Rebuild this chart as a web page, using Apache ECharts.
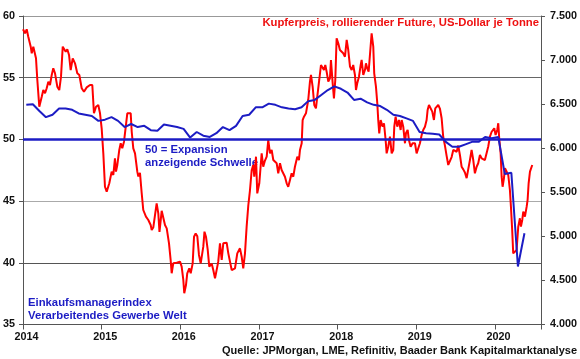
<!DOCTYPE html>
<html><head><meta charset="utf-8">
<script src="https://cdn.jsdelivr.net/npm/echarts@6/dist/echarts.min.js"></script>
<style>html,body{margin:0;padding:0;background:#fff}#c{width:580px;height:359px}</style>
</head><body><div id="c"></div>
<script>
// x-axis: years
const yearTicks = [2014, 2015, 2016, 2017, 2018, 2019, 2020];
const xMin = 2014, xMax = 2020.585;
// Left axis: Einkaufsmanagerindex (PMI), right axis: copper USD/t
const pmiTicks = [35, 40, 45, 50, 55, 60];
const copperTicks = [4000, 4500, 5000, 5500, 6000, 6500, 7000, 7500];

// PMI monthly, Jan 2014 .. May 2020
const pmiStartYear = 2014;
const pmiValues = [
  52.8, 52.85, 52.3, 51.8, 52.0, 52.5, 52.5, 52.4, 52.1, 52.0, 51.9, 51.5,
  51.6, 51.8, 51.5, 51.0, 51.25, 51.0, 51.1, 50.75, 50.7, 51.2, 51.1, 51.0,
  50.85, 50.15, 50.6, 50.3, 50.2, 50.5, 51.0, 50.75, 51.1, 51.9, 52.0, 52.6,
  52.6, 52.9, 52.8, 52.6, 52.5, 52.45, 52.6, 53.1, 53.2, 53.6, 54.0, 54.3,
  54.1, 53.8, 53.2, 53.3, 53.0, 52.8, 52.7, 52.4, 52.0, 51.9, 51.7, 51.5,
  50.6, 50.5, 50.45, 50.4, 49.8, 49.4, 49.4, 49.6, 49.8, 49.8, 50.2, 50.1,
  50.2, 47.2, 47.3, 39.7, 42.4
];

// Copper price (rolling future, USD per tonne): dates as decimal years
const copperDates = [
  2014.000, 2014.025, 2014.047, 2014.067, 2014.098, 2014.111, 2014.131, 2014.153, 2014.165, 2014.182,
  2014.207, 2014.238, 2014.258, 2014.280, 2014.301, 2014.322, 2014.343, 2014.365, 2014.385, 2014.407,
  2014.436, 2014.461, 2014.483, 2014.505, 2014.521, 2014.543, 2014.563, 2014.585, 2014.606, 2014.632,
  2014.661, 2014.690, 2014.716, 2014.746, 2014.775, 2014.810, 2014.852, 2014.881, 2014.902, 2014.928,
  2014.957, 2014.979, 2015.000, 2015.021, 2015.042, 2015.064, 2015.097, 2015.127, 2015.148, 2015.169,
  2015.182, 2015.199, 2015.224, 2015.242, 2015.262, 2015.284, 2015.309, 2015.326, 2015.351, 2015.369,
  2015.382, 2015.402, 2015.424, 2015.453, 2015.466, 2015.487, 2015.509, 2015.529, 2015.563, 2015.593,
  2015.623, 2015.636, 2015.656, 2015.678, 2015.699, 2015.720, 2015.735, 2015.763, 2015.783, 2015.805,
  2015.827, 2015.856, 2015.877, 2015.890, 2015.910, 2015.954, 2015.996, 2016.017, 2016.038, 2016.050,
  2016.072, 2016.088, 2016.114, 2016.132, 2016.157, 2016.174, 2016.195, 2016.216, 2016.237, 2016.259,
  2016.292, 2016.307, 2016.326, 2016.348, 2016.368, 2016.399, 2016.419, 2016.441, 2016.462, 2016.482,
  2016.504, 2016.526, 2016.546, 2016.589, 2016.610, 2016.631, 2016.653, 2016.695, 2016.724, 2016.758,
  2016.780, 2016.800, 2016.822, 2016.843, 2016.864, 2016.885, 2016.907, 2016.927, 2016.940, 2016.962,
  2016.978, 2017.004, 2017.034, 2017.054, 2017.076, 2017.098, 2017.118, 2017.140, 2017.161, 2017.182,
  2017.225, 2017.245, 2017.267, 2017.288, 2017.330, 2017.352, 2017.372, 2017.394, 2017.415, 2017.436,
  2017.457, 2017.487, 2017.508, 2017.521, 2017.543, 2017.555, 2017.572, 2017.597, 2017.626, 2017.648,
  2017.661, 2017.682, 2017.703, 2017.724, 2017.741, 2017.766, 2017.788, 2017.809, 2017.826, 2017.843,
  2017.860, 2017.881, 2017.902, 2017.915, 2017.937, 2017.953, 2017.970, 2017.987, 2018.008, 2018.029,
  2018.051, 2018.071, 2018.093, 2018.115, 2018.135, 2018.157, 2018.178, 2018.198, 2018.220, 2018.233,
  2018.249, 2018.271, 2018.293, 2018.305, 2018.326, 2018.347, 2018.360, 2018.376, 2018.394, 2018.411,
  2018.432, 2018.453, 2018.465, 2018.487, 2018.504, 2018.516, 2018.529, 2018.547, 2018.572, 2018.589,
  2018.610, 2018.623, 2018.643, 2018.665, 2018.687, 2018.707, 2018.720, 2018.737, 2018.758, 2018.779,
  2018.801, 2018.814, 2018.834, 2018.856, 2018.868, 2018.890, 2018.906, 2018.928, 2018.953, 2018.983,
  2019.004, 2019.025, 2019.046, 2019.068, 2019.088, 2019.110, 2019.131, 2019.144, 2019.161, 2019.182,
  2019.203, 2019.224, 2019.241, 2019.259, 2019.279, 2019.300, 2019.322, 2019.342, 2019.364, 2019.386,
  2019.406, 2019.428, 2019.449, 2019.470, 2019.491, 2019.513, 2019.533, 2019.555, 2019.576, 2019.597,
  2019.618, 2019.640, 2019.660, 2019.682, 2019.703, 2019.724, 2019.745, 2019.767, 2019.787, 2019.809,
  2019.831, 2019.851, 2019.872, 2019.894, 2019.914, 2019.936, 2019.958, 2019.978, 2019.991, 2020.008,
  2020.029, 2020.042, 2020.054, 2020.072, 2020.085, 2020.097, 2020.114, 2020.127, 2020.148, 2020.169,
  2020.190, 2020.203, 2020.219, 2020.232, 2020.254, 2020.275, 2020.296, 2020.317, 2020.330, 2020.347,
  2020.360, 2020.381, 2020.403, 2020.415, 2020.428, 2020.445, 2020.474
];
const copperValues = [
  7349, 7304, 7349, 7265, 7152, 7077, 7152, 7152, 7020, 6774,
  6471, 6585, 6660, 6623, 6680, 6755, 6717, 6831, 6907, 6850,
  6698, 6660, 6812, 7152, 7160, 7095, 7122, 7058, 6887, 7020,
  6963, 6850, 6831, 6680, 6641, 6690, 6717, 6717, 6396, 6471,
  6490, 6396, 6226, 5942, 5563, 5507, 5602, 5734, 5696, 5885,
  5734, 5810, 5980, 6056, 5999, 6074, 6060, 6396, 6415, 6396,
  6187, 5999, 5942, 5734, 5680, 5720, 5489, 5299, 5223, 5186,
  5129, 5072, 5100, 5242, 5375, 5261, 5050, 5290, 5299, 5129,
  5091, 4921, 4732, 4581, 4694, 4701, 4713, 4656, 4505, 4354,
  4448, 4581, 4638, 4581, 4694, 4996, 5034, 5000, 4789, 4694,
  4883, 5053, 4996, 4850, 4656, 4690, 4618, 4524, 4620, 4713,
  4921, 4732, 4921, 4928, 4807, 4789, 4618, 4638, 4807, 4864,
  4769, 4638, 4807, 5110, 5350, 5520, 5750, 5810, 5677, 5904,
  5488, 5602, 5942, 5790, 5860, 5904, 6093, 5942, 5980, 5866,
  5829, 5715, 5829, 5753, 5677, 5602, 5563, 5639, 5715, 5677,
  5790, 5904, 5866, 5980, 6056, 6320, 6358, 6396, 6547, 6755,
  6831, 6698, 6490, 6452, 6585, 6774, 6944, 6925, 6887, 6944,
  6868, 6755, 6793, 7001, 6736, 6566, 6774, 7247, 7190, 7114,
  7095, 7077, 7038, 7228, 7114, 6925, 6887, 6944, 6831, 6660,
  6736, 6812, 6944, 7001, 6831, 6887, 6963, 6907, 6868, 6887,
  7304, 7152, 6850, 6698, 6510, 6320, 6169, 6320, 6244, 6283,
  6093, 5942, 6017, 6131, 5942, 5980, 6244, 6358, 6244, 6320,
  6207, 6320, 6244, 6056, 6169, 6207, 6093, 6017, 6056, 6056,
  5942, 5961, 6056, 6150, 6207, 6244, 6320, 6434, 6490, 6471,
  6415, 6320, 6452, 6471, 6490, 6450, 6340, 6130, 6030, 5910,
  5810, 5820, 5900, 5980, 5960, 5960, 6030, 5920, 5790, 5760,
  5725, 5660, 5760, 5866, 5980, 5866, 5715, 5790, 5829, 5923,
  5885, 5904, 5866, 5880, 6017, 6131, 6187, 6187, 6226, 6150,
  6207, 6283, 6112, 5942, 5677, 5563, 5658, 5772, 5753, 5696,
  5526, 5337, 5072, 4807, 4789, 4845, 5110, 5205, 5110, 5186,
  5280, 5223, 5337, 5413, 5602, 5734, 5810
];

const thresholdValue = 50;

const pmiData = pmiValues.map((v, i) => [pmiStartYear + (i + 0.5) / 12, v]);
const copperData = copperDates.map((d, i) => [d, copperValues[i]]);

const BLUE = '#1c1cc4';
const RED = '#ff0000';
const FONT = '"Liberation Sans", Arial, sans-serif';

const chart = echarts.init(document.getElementById('c'), null, {renderer: 'canvas'});
chart.setOption({
  animation: false,
  backgroundColor: '#fff',
  grid: {left: 23, right: 39, top: 16, bottom: 34.5, containLabel: false},
  xAxis: {
    type: 'value', min: xMin, max: xMax, interval: 1,
    axisLine: {show: true, lineStyle: {color: '#555', width: 1}},
    axisTick: {show: true, length: 5, lineStyle: {color: '#555'}},
    splitLine: {show: false},
    axisLabel: {
      margin: 7, color: '#111', fontFamily: FONT, fontWeight: 'bold', fontSize: 10.8,
      formatter: v => (yearTicks.indexOf(Math.round(v * 1000) / 1000) >= 0 ? String(v) : ''),
      padding: [0, 0, 0, 7]
    }
  },
  yAxis: [
    {
      type: 'value', min: pmiTicks[0], max: pmiTicks[pmiTicks.length - 1], interval: 5,
      position: 'left',
      axisLine: {show: true, lineStyle: {color: '#555', width: 1}},
      axisTick: {show: true, length: 4, lineStyle: {color: '#555'}},
      axisLabel: {margin: 8, color: '#111', fontFamily: FONT, fontWeight: 'bold', fontSize: 10.8},
      splitLine: {show: true, lineStyle: {color: ['rgba(0,0,0,0)', '#555', '#aaa', 'rgba(0,0,0,0)', '#666', '#999'], width: 1}}
    },
    {
      type: 'value', min: copperTicks[0], max: copperTicks[copperTicks.length - 1], interval: 500,
      position: 'right',
      axisLine: {show: true, lineStyle: {color: '#555', width: 1}},
      axisTick: {show: true, length: 4, lineStyle: {color: '#555'}},
      axisLabel: {
        margin: 9, color: '#111', fontFamily: FONT, fontWeight: 'bold', fontSize: 10.8,
        formatter: v => String(v).replace(/\B(?=(\d{3})+(?!\d))/g, '.')
      },
      splitLine: {show: false}
    }
  ],
  series: [
    {
      name: 'Kupferpreis', type: 'line', yAxisIndex: 1, data: copperData,
      showSymbol: false, symbol: 'none', lineStyle: {color: RED, width: 2}, z: 2
    },
    {
      name: 'Einkaufsmanagerindex', type: 'line', yAxisIndex: 0, data: pmiData,
      showSymbol: false, symbol: 'none', lineStyle: {color: BLUE, width: 2}, z: 3,
      markLine: {
        silent: true, symbol: ['none', 'none'], label: {show: false},
        lineStyle: {color: BLUE, width: 2.5, type: 'solid'},
        data: [{yAxis: thresholdValue}]
      }
    }
  ],
  graphic: [
    {type: 'text', right: 41, top: 17, style: {text: 'Kupferpreis, rollierender Future, US-Dollar je Tonne', fill: '#ee1111', font: 'bold 11.3px ' + FONT}},
    {type: 'text', left: 145, top: 143, style: {text: '50 = Expansion\nanzeigende Schwelle', fill: BLUE, font: 'bold 11.3px ' + FONT, lineHeight: 13.5}},
    {type: 'text', left: 28, top: 297, style: {text: 'Einkaufsmanagerindex\nVerarbeitendes Gewerbe Welt', fill: BLUE, font: 'bold 11.3px ' + FONT, lineHeight: 12.5}},
    {type: 'text', right: 3, top: 345, style: {text: 'Quelle: JPMorgan, LME, Refinitiv, Baader Bank Kapitalmarktanalyse', fill: '#111', font: 'bold 11px ' + FONT}}
  ]
});
</script>
</body></html>
